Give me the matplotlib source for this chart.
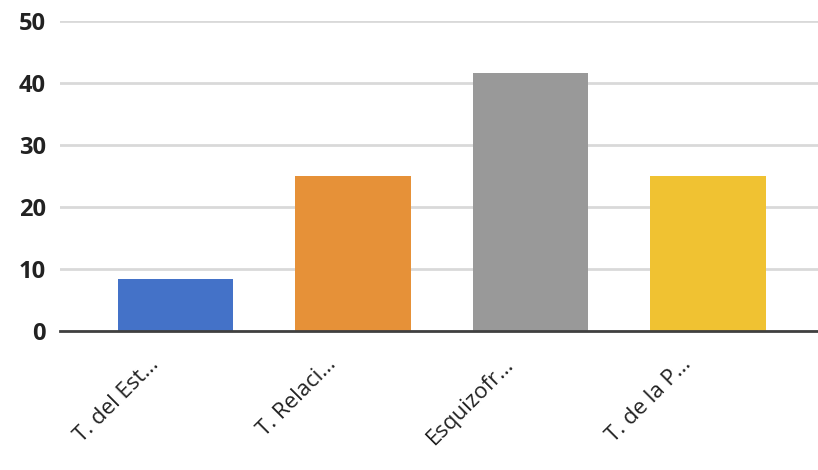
import matplotlib
matplotlib.use('Agg')
import matplotlib.pyplot as plt

# datos del gráfico
categorias = ['T. del Est…', 'T. Relaci…', 'Esquizofr…', 'T. de la P…']
valores = [8.33, 25.0, 41.67, 25.0]
colores = ['#4472C8', '#E69138', '#999999', '#F0C232']
ticks_y = [0, 10, 20, 30, 40, 50]

plt.rcParams['font.family'] = ['Open Sans', 'DejaVu Sans']

fig = plt.figure(figsize=(8.18, 4.70), dpi=100)
ax = fig.add_axes([0.0733, 0.2957, 0.9267, 0.660])

x = list(range(len(categorias)))
ax.bar(x, valores, width=0.65, color=colores, zorder=3)

ax.set_ylim(0, 50)
ax.set_xlim(-0.65, 3.62)
ax.set_yticks(ticks_y)
ax.set_yticklabels([str(t) for t in ticks_y], fontsize=17, fontweight='bold', color='#222222')
ax.set_xticks(x)
ax.set_xticklabels([''] * len(x))

# etiquetas de categoría giradas, un poco a la izquierda del centro
for i, cat in zip(x, categorias):
    ax.annotate(cat, xy=(i, 0), xycoords='data', xytext=(-27, -23),
                textcoords='offset pixels', rotation=45, ha='right', va='top',
                rotation_mode='anchor', fontsize=16, color='#222222',
                annotation_clip=False)

# rejilla horizontal
ax.grid(axis='y', color='#d9d9d9', linewidth=2, zorder=0)
ax.tick_params(axis='both', length=0)
ax.tick_params(axis='y', pad=10)
for s in ['top', 'right', 'left']:
    ax.spines[s].set_visible(False)
ax.spines['bottom'].set_color('#404040')
ax.spines['bottom'].set_linewidth(2)
ax.spines['bottom'].set_zorder(4)

plt.savefig('out.png', dpi=100)
